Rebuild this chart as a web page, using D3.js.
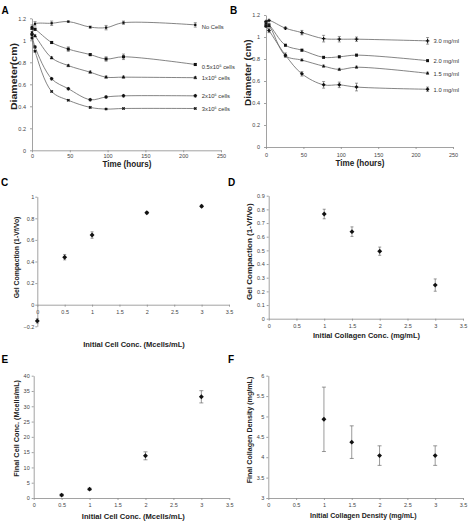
<!DOCTYPE html>
<html><head><meta charset="utf-8">
<script src="https://cdn.jsdelivr.net/npm/d3@7"></script>
<style>
html,body{margin:0;padding:0;background:#fff;}
svg{display:block;font-family:"Liberation Sans",Arial,sans-serif;}
</style></head>
<body>
<svg id="chart" width="468" height="522"></svg>
<script>
// ---------- DATA ----------
const timeHours = [0, 4, 26, 48, 77, 98, 121, 216];
const timeTicks = [0, 50, 100, 150, 200, 250];
const diamTicks = [0, 0.2, 0.4, 0.6, 0.8, 1, 1.2];

// Panel A: diameter vs time by cell density
const cellSeriesNames = ["No Cells", "0.5x10\u2075 cells", "1x10\u2076 cells", "2x10\u2076 cells", "3x10\u2076 cells"];
const noCells   = [1.12, 1.15, 1.155, 1.17, 1.12, 1.115, 1.16, 1.14];
const cells05   = [1.11, 1.10, 0.98, 0.92, 0.87, 0.83, 0.85, 0.78];
const cells1    = [1.07, 1.04, 0.84, 0.77, 0.71, 0.665, 0.665, 0.66];
const cells2    = [1.05, 0.94, 0.65, 0.56, 0.46, 0.485, 0.495, 0.495];
const cells3    = [1.02, 0.90, 0.535, 0.455, 0.39, 0.375, 0.38, 0.38];
const noCellsErr = [0.02, 0.02, 0.02, 0.005, 0.01, 0.02, 0.015, 0.02];
const cells05Err = [0.01, 0.01, 0.01, 0.02, 0.01, 0.02, 0.025, 0.01];
const cells1Err  = [0.01, 0.01, 0.01, 0.01, 0.01, 0.01, 0.01, 0.01];
const cells2Err  = [0.01, 0.01, 0.01, 0.01, 0.01, 0.01, 0.01, 0.01];
const cells3Err  = [0.005, 0.005, 0.005, 0.005, 0.005, 0.005, 0.005, 0.005];

// Panel B: diameter vs time by collagen concentration
const collSeriesNames = ["3.0 mg/ml", "2.0 mg/ml", "1.5 mg/ml", "1.0 mg/ml"];
const coll30 = [1.14, 1.15, 1.08, 1.04, 0.985, 0.98, 0.98, 0.965];
const coll20 = [1.12, 1.11, 0.925, 0.88, 0.815, 0.82, 0.835, 0.785];
const coll15 = [1.10, 1.10, 0.83, 0.79, 0.735, 0.705, 0.725, 0.67];
const coll10 = [1.10, 1.06, 0.835, 0.665, 0.565, 0.565, 0.545, 0.525];
const coll30Err = [0.01, 0.01, 0.01, 0.02, 0.03, 0.025, 0.02, 0.03];
const coll20Err = [0.01, 0.01, 0.01, 0.01, 0.01, 0.01, 0.01, 0.01];
const coll15Err = [0.01, 0.01, 0.01, 0.01, 0.01, 0.01, 0.01, 0.01];
const coll10Err = [0.01, 0.02, 0.02, 0.02, 0.03, 0.025, 0.035, 0.02];

const concTicks = [0, 0.5, 1, 1.5, 2, 2.5, 3, 3.5];

// Panel C
const cInitCell = [0, 0.5, 1, 2, 3];
const cCompaction = [-0.15, 0.44, 0.645, 0.852, 0.912];
const cCompactionErr = [0.02, 0.025, 0.03, 0.01, 0.01];
const cTicksY = [-0.2, 0, 0.2, 0.4, 0.6, 0.8, 1];

// Panel D
const dInitColl = [1, 1.5, 2, 3];
const dCompaction = [0.766, 0.637, 0.494, 0.246];
const dCompactionErr = [0.035, 0.035, 0.03, 0.045];
const dTicksY = [0, 0.1, 0.2, 0.3, 0.4, 0.5, 0.6, 0.7, 0.8, 0.9];

// Panel E
const eInitCell = [0.5, 1, 2, 3];
const eFinalCell = [0.95, 2.9, 13.8, 33.1];
const eFinalCellErr = [0.3, 0.3, 1.3, 2.0];
const eTicksY = [0, 5, 10, 15, 20, 25, 30, 35, 40];

// Panel F
const fInitColl = [1, 1.5, 2, 3];
const fFinalColl = [4.93, 4.37, 4.04, 4.04];
const fFinalCollErr = [0.79, 0.40, 0.24, 0.24];
const fTicksY = [3, 3.5, 4, 4.5, 5, 5.5, 6];

// ---------- DRAWING ----------
const svg = d3.select("#chart");
const AXIS_COLOR = "#8a8a8a";
const TEXT_COLOR = "#444";
const LINE_COLOR = "#666";

function symbolPath(type, size) {
  const map = {square: d3.symbolSquare, triangle: d3.symbolTriangle, diamond: d3.symbolSquare,
               cross: d3.symbolCross, x: d3.symbolCross};
  return d3.symbol().type(map[type]).size(size)();
}
function symbolRot(type) { return (type === "diamond" || type === "x") ? 45 : 0; }

function drawPanel(cfg) {
  const g = svg.append("g");
  const x = d3.scaleLinear().domain(cfg.xDomain).range([cfg.left, cfg.right]);
  const y = d3.scaleLinear().domain(cfg.yDomain).range([cfg.bottom, cfg.top]);
  const xAxisY = y(cfg.xAxisAt !== undefined ? cfg.xAxisAt : cfg.yDomain[0]);

  const xa = g.append("g").attr("transform", `translate(0,${xAxisY})`)
    .call(d3.axisBottom(x).tickValues(cfg.xTicks).tickSize(2).tickPadding(cfg.xPad).tickSizeOuter(0)
      .tickFormat(d3.format("")));
  const ya = g.append("g").attr("transform", `translate(${cfg.left},0)`)
    .call(d3.axisLeft(y).tickValues(cfg.yTicks).tickSize(2).tickPadding(cfg.yPad).tickSizeOuter(0)
      .tickFormat(d3.format("")));
  [xa, ya].forEach(a => {
    a.select(".domain").attr("stroke", AXIS_COLOR).attr("stroke-width", 0.8);
    a.selectAll(".tick line").attr("stroke", AXIS_COLOR).attr("stroke-width", 0.8);
    a.selectAll(".tick text").attr("fill", TEXT_COLOR).style("font-size", "5.5px")
      .style("font-family", "'Liberation Sans',Arial,sans-serif");
  });

  // titles
  g.append("text").attr("x", cfg.xTitle.x).attr("y", cfg.xTitle.y)
    .attr("text-anchor", "middle").attr("font-weight", "bold").attr("fill", "#222")
    .attr("font-size", cfg.titleSize).attr("textLength", cfg.xTitle.len).attr("lengthAdjust", "spacingAndGlyphs")
    .text(cfg.xTitle.text);
  g.append("text").attr("transform", `translate(${cfg.yTitle.x},${cfg.yTitle.y}) rotate(-90)`)
    .attr("text-anchor", "middle").attr("dominant-baseline", "central").attr("font-weight", "bold").attr("fill", "#222")
    .attr("font-size", cfg.titleSize).attr("textLength", cfg.yTitle.len).attr("lengthAdjust", "spacingAndGlyphs")
    .text(cfg.yTitle.text);
  // panel letter
  g.append("text").attr("x", cfg.letter.x).attr("y", cfg.letter.y).attr("font-weight", "bold")
    .attr("font-size", 10).attr("fill", "#000").text(cfg.letter.text);

  return {g, x, y};
}

function drawSeries(p, xs, ys, errs, opts) {
  const pts = xs.map((d, i) => ({x: d, y: ys[i], e: errs[i]}));
  if (opts.line) {
    p.g.append("path").datum(pts)
      .attr("fill", "none").attr("stroke", LINE_COLOR).attr("stroke-width", 0.8)
      .attr("d", d3.line().x(d => p.x(d.x)).y(d => p.y(d.y)).curve(d3.curveCatmullRom.alpha(0.5)));
  }
  const eb = p.g.append("g").attr("stroke", "#555").attr("stroke-width", 0.6);
  pts.forEach(d => {
    const cx = p.x(d.x), y1 = p.y(d.y + d.e), y2 = p.y(d.y - d.e);
    eb.append("line").attr("x1", cx).attr("x2", cx).attr("y1", y1).attr("y2", y2);
    eb.append("line").attr("x1", cx - opts.cap).attr("x2", cx + opts.cap).attr("y1", y1).attr("y2", y1);
    eb.append("line").attr("x1", cx - opts.cap).attr("x2", cx + opts.cap).attr("y1", y2).attr("y2", y2);
  });
  p.g.append("g").selectAll("path").data(pts).join("path")
    .attr("transform", d => `translate(${p.x(d.x)},${p.y(d.y)}) rotate(${symbolRot(opts.symbol)})`)
    .attr("d", symbolPath(opts.symbol, opts.size))
    .attr("fill", opts.fill || "#111").attr("stroke", opts.stroke || "none").attr("stroke-width", 0.5);
  if (opts.label) {
    const last = pts[pts.length - 1];
    p.g.append("text").attr("x", p.x(last.x) + opts.labelDx).attr("y", p.y(last.y) + (opts.labelDy || 0))
      .attr("dominant-baseline", "central").attr("font-size", 5.8).attr("fill", "#333").text(opts.label);
  }
}

// Panel A
const pA = drawPanel({
  xDomain: [0, 250], yDomain: [0, 1.2], left: 32, right: 221, top: 18.3, bottom: 150.3,
  xTicks: timeTicks, yTicks: diamTicks, xPad: 2, yPad: 4, titleSize: 9,
  xTitle: {text: "Time (hours)", x: 127, y: 167, len: 49},
  yTitle: {text: "Diameter(cm)", x: 13.5, y: 76.5, len: 67},
  letter: {text: "A", x: 1.5, y: 13.5}
});
const aSeries = [
  [noCells, noCellsErr, "square", 5],
  [cells05, cells05Err, "square", 9],
  [cells1, cells1Err, "triangle", 6],
  [cells2, cells2Err, "diamond", 8],
  [cells3, cells3Err, "x", 6]
];
aSeries.forEach((s, i) => drawSeries(pA, timeHours, s[0], s[1],
  {line: true, symbol: s[2], size: s[3], cap: 1.5, label: cellSeriesNames[i], labelDx: 6.5, labelDy: i <= 1 ? 2 : 0}));

// Panel B
const pB = drawPanel({
  xDomain: [0, 250], yDomain: [0, 1.2], left: 266, right: 453, top: 15, bottom: 147,
  xTicks: timeTicks, yTicks: diamTicks, xPad: 4, yPad: 4, titleSize: 9,
  xTitle: {text: "Time (hours)", x: 360, y: 166, len: 49},
  yTitle: {text: "Diameter (cm)", x: 248, y: 72.7, len: 66.7},
  letter: {text: "B", x: 230, y: 13.5}
});
const bSeries = [
  [coll30, coll30Err, "cross", 7],
  [coll20, coll20Err, "square", 8],
  [coll15, coll15Err, "triangle", 5],
  [coll10, coll10Err, "diamond", 8]
];
bSeries.forEach((s, i) => drawSeries(pB, timeHours, s[0], s[1],
  {line: true, symbol: s[2], size: s[3], cap: 1.5, label: collSeriesNames[i], labelDx: 6, labelDy: 0.5}));

// Panel C
const pC = drawPanel({
  xDomain: [0, 3.5], yDomain: [-0.2, 1], left: 37.3, right: 229, top: 196.7, bottom: 326.3, xAxisAt: 0,
  xTicks: concTicks, yTicks: cTicksY, xPad: 3, yPad: 1, titleSize: 6.5,
  xTitle: {text: "Initial Cell Conc. (Mcells/mL)", x: 134, y: 346.5, len: 101.7},
  yTitle: {text: "Gel Compaction (1-Vf/Vo)", x: 16, y: 257.5, len: 81.7},
  letter: {text: "C", x: 1, y: 185.5}
});
drawSeries(pC, cInitCell, cCompaction, cCompactionErr, {symbol: "diamond", size: 12, cap: 1.5});

// Panel D
const pD = drawPanel({
  xDomain: [0, 3.5], yDomain: [0, 0.9], left: 268.7, right: 463, top: 195.7, bottom: 318.7,
  xTicks: concTicks, yTicks: dTicksY, xPad: 3, yPad: 2, titleSize: 6.5,
  xTitle: {text: "Initial Collagen Conc. (mg/mL)", x: 366.5, y: 338, len: 107},
  yTitle: {text: "Gel Compaction (1-Vf/Vo)", x: 249.5, y: 251.7, len: 96.7},
  letter: {text: "D", x: 228, y: 185.5}
});
drawSeries(pD, dInitColl, dCompaction, dCompactionErr, {symbol: "diamond", size: 12, cap: 1.5});

// Panel E
const pE = drawPanel({
  xDomain: [0, 3.5], yDomain: [0, 40], left: 33.7, right: 229.3, top: 375.7, bottom: 498,
  xTicks: concTicks, yTicks: eTicksY, xPad: 3, yPad: 2, titleSize: 6.5,
  xTitle: {text: "Initial Cell Conc. (Mcells/mL)", x: 133.3, y: 518.5, len: 103},
  yTitle: {text: "Final Cell Conc. (Mcells/mL)", x: 16, y: 428.3, len: 96.7},
  letter: {text: "E", x: 1.5, y: 362.5}
});
drawSeries(pE, eInitCell, eFinalCell, eFinalCellErr, {symbol: "diamond", size: 12, cap: 2});

// Panel F
const pF = drawPanel({
  xDomain: [0, 3.5], yDomain: [3, 6], left: 268.3, right: 463, top: 375.7, bottom: 498,
  xTicks: concTicks, yTicks: fTicksY, xPad: 3, yPad: 2, titleSize: 6.5,
  xTitle: {text: "Initial Collagen Density (mg/mL)", x: 363.3, y: 518, len: 106.7},
  yTitle: {text: "Final Collagen Density (mg/mL)", x: 249.5, y: 430, len: 106.7},
  letter: {text: "F", x: 228, y: 362.5}
});
drawSeries(pF, fInitColl, fFinalColl, fFinalCollErr, {symbol: "diamond", size: 12, cap: 2});
</script>
</body></html>
